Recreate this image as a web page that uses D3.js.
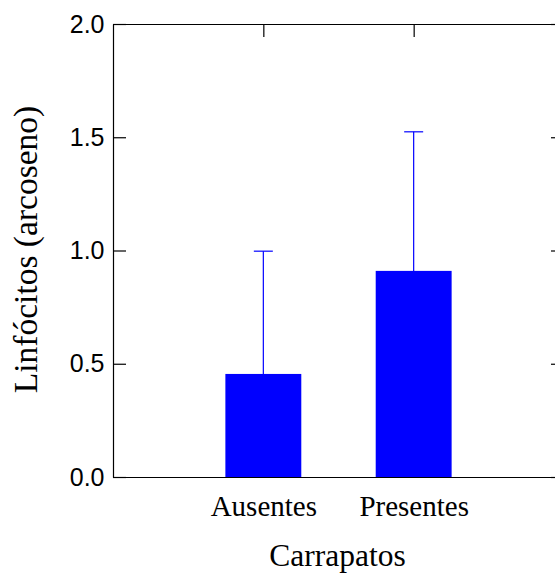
<!DOCTYPE html>
<html>
<head>
<meta charset="utf-8">
<script src="https://cdn.jsdelivr.net/npm/d3@7"></script>
<style>
  body { margin: 0; background: #fff; }
  svg { display: block; }
</style>
</head>
<body>
<div id="chart"></div>
<script>
// data
const categories = ['Ausentes', 'Presentes']
const means = [0.455, 0.91]
const errors = [0.542, 0.614]
const yTicks = [0, 0.5, 1.0, 1.5, 2.0]

const width = 555
const height = 573
const margin = { top: 24, left: 113, right: -9, bottom: 96 }
const innerW = width - margin.left - margin.right
const innerH = height - margin.top - margin.bottom

const blue = '#0000ff'

const svg = d3.select('#chart')
  .append('svg')
  .attr('width', width)
  .attr('height', height)

const g = svg.append('g')
  .attr('transform', `translate(${margin.left}, ${margin.top})`)

/* Scales */
const xScale = d3.scalePoint()
  .domain(categories)
  .range([0, innerW])
  .padding(1)

const yScale = d3.scaleLinear()
  .domain([0, 2])
  .range([innerH, 0])

const barW = xScale.step() * 0.505

/* Bars */
g.selectAll('.bar')
  .data(categories)
  .enter()
  .append('rect')
  .attr('class', 'bar')
  .attr('x', d => xScale(d) - barW / 2)
  .attr('y', (d, i) => yScale(means[i]))
  .attr('width', barW)
  .attr('height', (d, i) => innerH - yScale(means[i]))
  .attr('fill', blue)

/* Error bars (upper only) */
const capW = 19
const err = g.selectAll('.err')
  .data(categories)
  .enter()
  .append('g')
  .attr('class', 'err')
  .attr('stroke', blue)
  .attr('stroke-width', 1.2)

err.append('line')
  .attr('x1', d => xScale(d))
  .attr('x2', d => xScale(d))
  .attr('y1', (d, i) => yScale(means[i]))
  .attr('y2', (d, i) => yScale(means[i] + errors[i]))

err.append('line')
  .attr('x1', d => xScale(d) - capW / 2)
  .attr('x2', d => xScale(d) + capW / 2)
  .attr('y1', (d, i) => yScale(means[i] + errors[i]))
  .attr('y2', (d, i) => yScale(means[i] + errors[i]))

/* Axes */
const yAxis = d3.axisLeft(yScale)
  .tickValues(yTicks)
  .tickFormat(d3.format('.1f'))
  .tickSizeInner(-13)
  .tickSizeOuter(0)
  .tickPadding(8.5)

g.append('g')
  .attr('class', 'y axis')
  .call(yAxis)
  .call(s => s.selectAll('text')
    .attr('font-family', 'Liberation Sans, Arial, sans-serif')
    .attr('font-size', 25)
    .attr('fill', '#000'))

g.append('g')
  .attr('class', 'y2 axis')
  .attr('transform', `translate(${innerW}, 0)`)
  .call(d3.axisRight(yScale).tickValues(yTicks).tickFormat('').tickSizeInner(-13).tickSizeOuter(0))

g.append('g')
  .attr('class', 'x2 axis')
  .call(d3.axisTop(xScale).tickFormat('').tickSizeInner(-13).tickSizeOuter(0))

const xLabelSize = 29
g.append('g')
  .attr('class', 'x axis')
  .attr('transform', `translate(0, ${innerH})`)
  .call(d3.axisBottom(xScale).tickSize(0).tickSizeOuter(0).tickPadding(516 - 477 - 0.71 * xLabelSize))
  .call(s => s.selectAll('text')
    .attr('font-family', 'Liberation Serif, Times New Roman, serif')
    .attr('font-size', xLabelSize)
    .attr('fill', '#000'))

g.selectAll('.axis path, .axis line')
  .attr('stroke', '#000')
  .attr('stroke-width', 1.2)

/* Titles */
svg.append('text')
  .attr('x', margin.left + innerW / 2 - 1)
  .attr('y', 566)
  .attr('text-anchor', 'middle')
  .attr('font-family', 'Liberation Serif, Times New Roman, serif')
  .attr('font-size', 31.5)
  .attr('fill', '#000')
  .text('Carrapatos')

svg.append('text')
  .attr('transform', `translate(37, ${margin.top + innerH / 2 - 1}) rotate(-90)`)
  .attr('text-anchor', 'middle')
  .attr('font-family', 'Liberation Serif, Times New Roman, serif')
  .attr('font-size', 33.5)
  .attr('fill', '#000')
  .text('Linfócitos (arcoseno)')
</script>
</body>
</html>
